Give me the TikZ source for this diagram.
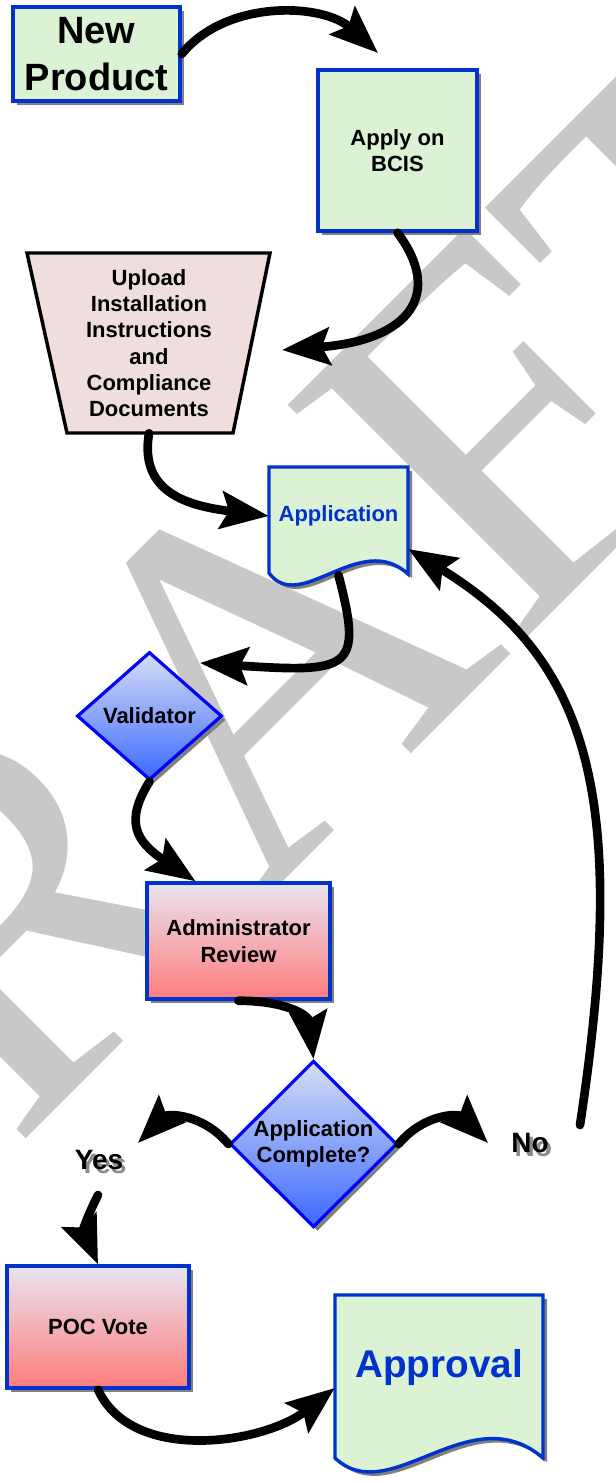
\documentclass[tikz,border=0pt]{standalone}
\usepackage{fontspec}
\setmainfont{Liberation Sans}
\newfontfamily\draftfont{Liberation Serif}
\usetikzlibrary{arrows.meta,shapes.geometric,shadows,calc}

\definecolor{sheetgreen}{RGB}{220,242,212}
\definecolor{edgeblue}{RGB}{0,51,204}
\definecolor{diamblue}{RGB}{0,0,255}
\definecolor{uploadpink}{RGB}{240,221,221}
\definecolor{reviewtop}{RGB}{232,228,240}
\definecolor{reviewbot}{RGB}{255,125,125}
\definecolor{checktop}{RGB}{214,222,245}
\definecolor{checkbot}{RGB}{60,105,255}
\definecolor{draftgray}{RGB}{200,200,200}

% gray copy of the text, pushed down and right
\newcommand{\dropped}[1]{\makebox[0pt][l]{\hspace{2.5pt}\raisebox{-2.5pt}{\color{black!45}#1}}#1}

\begin{document}
\begin{tikzpicture}[x=0.75pt, y=-0.75pt,
  every node/.style = {align=center, inner sep=0pt,
    font=\bfseries\fontsize{16.5}{19.75}\selectfont},
  boxshadow/.style = {drop shadow={shadow xshift=3pt, shadow yshift=-3pt,
    fill=black!50, opacity=1}},
  greenbox/.style = {rectangle, draw=edgeblue, line width=2.6pt,
    fill=sheetgreen, boxshadow},
  redbox/.style = {rectangle, draw=edgeblue, line width=2.6pt,
    top color=reviewtop, bottom color=reviewbot, boxshadow},
  checkbox/.style = {diamond, draw=diamblue, line width=2.4pt,
    top color=checktop, bottom color=checkbot, boxshadow},
  sheet/.style = {draw=edgeblue, line width=2.6pt, fill=sheetgreen, boxshadow},
  uploadshape/.style = {draw=black, line width=2.6pt, fill=uploadpink},
  flow/.style = {line width=6.5pt, line cap=round,
    -{Stealth[length=36pt, width=28pt, inset=6pt]}},
  answer/.style = {font=\bfseries\fontsize{21}{25}\selectfont},
  draftmark/.style = {font=\draftfont\fontsize{382}{382}\selectfont,
    text=draftgray, rotate=45, anchor=base}]

  \useasboundingbox (0,0) rectangle (616,1483);
  \clip (0,0) rectangle (616,1483);

  % watermark
  \node[draftmark] (draft) at (344,821) {DRAFT};

  % shapes drawn by hand
  \draw[uploadshape] (27,253) -- (270,253) -- (233,433) -- (67,433) -- cycle;
  \draw[sheet] (269,467) -- (408,467) -- (408,574)
    .. controls (360,530) and (300,615) .. (269,573) -- cycle;
  \draw[sheet] (335,1295) -- (543,1295) -- (543,1458)
    .. controls (470,1395) and (390,1510) .. (335,1458) -- cycle;

  % nodes
  \node[greenbox, minimum width=125.25pt, minimum height=70.5pt,
    font=\bfseries\fontsize{28.5}{35}\selectfont] (prod) at (96.5,54) {New\\Product};
  \node[greenbox, minimum width=119.25pt, minimum height=120.75pt] (apply) at (397.5,150.5) {Apply on\\BCIS};
  \node[minimum width=124.5pt, minimum height=135pt] (upload) at (149,343)
    {Upload\\Installation\\Instructions\\and\\Compliance\\Documents};
  \node[text=edgeblue, minimum width=104.25pt, minimum height=88.5pt] (app) at (338.5,516) {Application};
  \node[checkbox, minimum width=108.75pt, minimum height=96pt] (valid) at (149.5,716) {Validator};
  \node[redbox, minimum width=137.25pt, minimum height=87pt] (review) at (238.5,941) {Administrator\\Review};
  \node[checkbox, minimum width=125.25pt, minimum height=121.5pt] (complete) at (313.5,1144) {Application\\Complete?};
  \node[answer] (yes) at (99,1162) {\dropped{Yes}};
  \node[answer] (no) at (530,1145) {\dropped{No}};
  \node[redbox, minimum width=136.5pt, minimum height=91.5pt] (poc) at (98,1327) {POC Vote};
  \node[text=edgeblue, minimum width=156pt, minimum height=136.5pt,
    font=\bfseries\fontsize{29}{35}\selectfont] (approval) at (439,1367) {Approval};

  % free ends
  \coordinate (toapply) at (378,53);
  \coordinate (toupload) at (282,350);
  \coordinate (tovalid) at (200,663);
  \coordinate (yesend) at (138,1143);
  \coordinate (noend) at (488,1143);
  \coordinate (nostart) at (580,1125);
  \coordinate (yesstart) at (98,1195);

  % connectors
  \draw[flow] (prod.east) .. controls +(45,-55) and +(-55,-50) .. (toapply);
  \draw[flow] (apply.south) .. controls +(45,60) and +(130,-10) .. (toupload);
  \draw[flow] (upload.south) .. controls +(-10,60) and +(-80,-10) .. (app.west);
  \draw[flow] (app.south) .. controls +(25,95) and +(150,10) .. (tovalid);
  \draw[flow] (valid.south) .. controls +(-25,40) and +(-60,-40) .. ($(review.north)+(-43,0)$);
  \draw[flow] (review.south) .. controls +(45,0) and +(-5,-45) .. (complete.north);
  \draw[flow] (complete.west) .. controls +(-25,-30) and +(30,-30) .. (yesend);
  \draw[flow] (complete.east) .. controls +(25,-30) and +(-30,-30) .. (noend);
  \draw[flow] (nostart) .. controls +(50,-330) and +(180,110) .. (app.east |- 0,549);
  \draw[flow] (yesstart) .. controls +(-10,20) and +(-15,-35) .. (poc.north);
  \draw[flow] (poc.south) .. controls +(35,75) and +(-70,55) .. ($(approval.west)+(0,21)$);
\end{tikzpicture}
\end{document}
